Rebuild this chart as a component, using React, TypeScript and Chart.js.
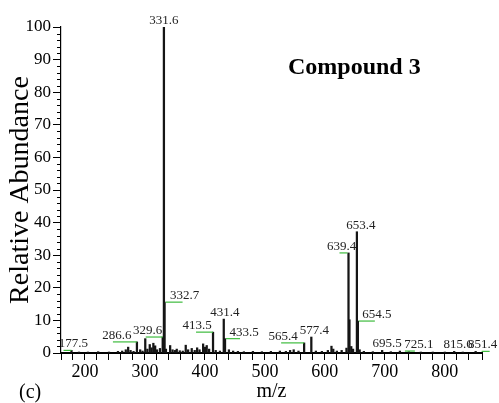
import React, { useEffect, useRef } from "react";
import { Chart, registerables } from "chart.js";

Chart.register(...registerables);

// m/z positions of the peaks and their relative abundances (%)
const peakMz = [
  177.5, 190, 205, 222, 240, 255, 262, 268, 272, 276, 281, 286.6, 292, 296,
  300.5, 304, 308, 311, 314, 317, 320, 325, 329.6, 331.6, 332.7, 335, 342,
  346, 350, 353, 358, 363, 368, 372, 378, 383, 387, 391, 397, 400, 403, 407,
  413.5, 418, 425, 431.4, 433.5, 440, 447, 455, 465, 480, 495, 510, 525, 535,
  542, 548, 556, 565.4, 577.4, 585, 595, 605, 611, 614, 620, 628, 636, 639.4,
  641, 644, 647, 653.4, 655, 658, 665, 680, 695.5, 710, 725.1, 740, 760, 780,
  800, 815.6, 830, 851.4,
];
const peakIntensity = [
  0.8, 0.3, 0.3, 0.4, 0.3, 0.5, 0.6, 1.0, 1.8, 0.8, 0.5, 3.4, 1.0, 0.6,
  4.4, 1.2, 2.6, 1.6, 3.0, 2.2, 1.0, 1.4, 4.9, 100, 15.6, 1.2, 2.3,
  1.0, 0.8, 1.2, 0.7, 0.6, 2.4, 1.0, 1.4, 0.8, 1.6, 1.0, 2.8, 1.8, 2.3, 1.2,
  6.4, 0.8, 0.6, 10.4, 4.4, 1.0, 0.6, 0.5, 0.4, 0.5, 0.4, 0.5, 0.6, 0.5,
  0.8, 1.0, 0.6, 3.1, 4.9, 0.6, 0.5, 0.8, 2.1, 1.2, 0.6, 0.8, 1.5, 30.7,
  10.2, 2.0, 1.2, 37.2, 9.8, 1.0, 0.5, 0.4, 0.8, 0.4, 0.6, 0.4, 0.3, 0.3,
  0.3, 0.5, 0.3, 0.5,
];

// annotated peaks
const labelMz = [
  177.5, 286.6, 329.6, 331.6, 332.7, 413.5, 431.4, 433.5, 565.4, 577.4, 639.4,
  653.4, 655, 695.5, 725.1, 815.6, 851.4,
];
const labelText = [
  "177.5", "286.6", "329.6", "331.6", "332.7", "413.5", "431.4", "433.5",
  "565.4", "577.4", "639.4", "653.4", "654.5", "695.5", "725.1", "815.6", "851.4",
];
// label layout: text centre offset (px) and green leader extent (px) relative to the peak
const labelDx = [2, -20, -15, 0, 20, -16, 1, 19, -21, 3, -7, 4, 19, 5, 19, 4, 7];
const labelLeader: (number[] | null)[] = [
  [-8, 0], [-24, 0], [-17, 0], null, [1, 18], [-17, 0], null, [1, 15],
  [-23, 0], null, [-9, -1], null, [1, 17], null, [5, 15], null, [6, 14],
];

const xTickStep = 20;
const yMinorStep = 2;
const SERIF = "'Liberation Serif', 'DejaVu Serif', serif";

const peakLabels = {
  id: "peakLabels",
  afterDatasetsDraw(chart: any) {
    const { ctx, scales } = chart;
    const xs = scales.x;
    const ys = scales.y;
    ctx.save();
    labelMz.forEach((mz, i) => {
      const idx = peakMz.indexOf(mz);
      const h = idx >= 0 ? peakIntensity[idx] : 0;
      const px = xs.getPixelForValue(mz);
      const py = ys.getPixelForValue(h);
      const ld = labelLeader[i];
      if (ld) {
        ctx.strokeStyle = "#3dbb3d";
        ctx.lineWidth = 1.2;
        ctx.beginPath();
        ctx.moveTo(px + ld[0], py);
        ctx.lineTo(px + ld[1], py);
        ctx.stroke();
      }
      ctx.fillStyle = "#222";
      ctx.font = `13px ${SERIF}`;
      ctx.textAlign = "center";
      ctx.textBaseline = "alphabetic";
      ctx.fillText(labelText[i], px + labelDx[i], py - 3);
    });
    ctx.restore();
  },
};

const extras = {
  id: "extras",
  afterDraw(chart: any) {
    const { ctx, scales, chartArea } = chart;
    const ys = scales.y;
    ctx.save();
    // minor ticks on y axis
    ctx.strokeStyle = "#000";
    ctx.lineWidth = 1;
    for (let v = 0; v <= 100; v += yMinorStep) {
      if (v % 10 === 0) continue;
      const y = Math.round(ys.getPixelForValue(v)) + 0.5;
      ctx.beginPath();
      ctx.moveTo(chartArea.left - 4, y);
      ctx.lineTo(chartArea.left, y);
      ctx.stroke();
    }
    ctx.fillStyle = "#000";
    ctx.font = `bold 24px ${SERIF}`;
    ctx.textAlign = "left";
    ctx.textBaseline = "alphabetic";
    ctx.fillText("Compound 3", 288, 74);
    ctx.font = `20px ${SERIF}`;
    ctx.fillText("(c)", 19, 398);
    ctx.restore();
  },
};

export default function App() {
  const ref = useRef<HTMLCanvasElement | null>(null);
  useEffect(() => {
    if (!ref.current) return;
    const chart = new Chart(ref.current, {
      type: "bar",
      data: {
        datasets: [
          {
            data: peakMz.map((x, i) => ({ x, y: peakIntensity[i] })),
            backgroundColor: "#151515",
            borderWidth: 0,
            barThickness: 1.6,
          } as any,
        ],
      },
      options: {
        responsive: false,
        animation: false,
        layout: { padding: { left: 0, right: 17, top: 27, bottom: 0 } },
        plugins: { legend: { display: false }, tooltip: { enabled: false } },
        scales: {
          x: {
            type: "linear",
            min: 160,
            max: 862,
            offset: false,
            grid: {
              display: true,
              offset: false,
              drawOnChartArea: false,
              drawTicks: true,
              tickLength: 7,
              color: "#000",
              lineWidth: 1,
            },
            border: { display: true, color: "#000", width: 2 },
            ticks: {
              stepSize: xTickStep,
              autoSkip: false,
              maxRotation: 0,
              padding: 1,
              color: "#000",
              font: { family: SERIF, size: 18 },
              callback: (v: any) => (Number(v) % 100 === 0 ? String(v) : ""),
            },
            title: {
              display: true,
              text: "m/z",
              color: "#000",
              font: { family: SERIF, size: 20, lineHeight: 1 },
              padding: { top: 0, bottom: 1 },
            },
            afterFit: (s: any) => {
              s.height = 50;
            },
          } as any,
          y: {
            min: 0,
            max: 100,
            grid: {
              display: true,
              drawOnChartArea: false,
              drawTicks: true,
              tickLength: 8,
              color: "#000",
              lineWidth: 1,
            },
            border: { display: true, color: "#000", width: 1.2 },
            ticks: {
              stepSize: 10,
              autoSkip: false,
              padding: 2,
              color: "#000",
              font: { family: SERIF, size: 17 },
            },
            title: {
              display: true,
              text: "Relative Abundance",
              color: "#000",
              font: { family: SERIF, size: 28, lineHeight: 1 },
              padding: { top: 7, bottom: 0 },
            },
            afterFit: (s: any) => {
              s.width = 61;
            },
          } as any,
        },
      },
      plugins: [peakLabels, extras],
    });
    return () => chart.destroy();
  }, []);
  return (
    <div style={{ position: "absolute", left: 0, top: 0, width: 499, height: 403, background: "#fff" }}>
      <canvas ref={ref} width={499} height={403} style={{ display: "block" }} />
    </div>
  );
}
